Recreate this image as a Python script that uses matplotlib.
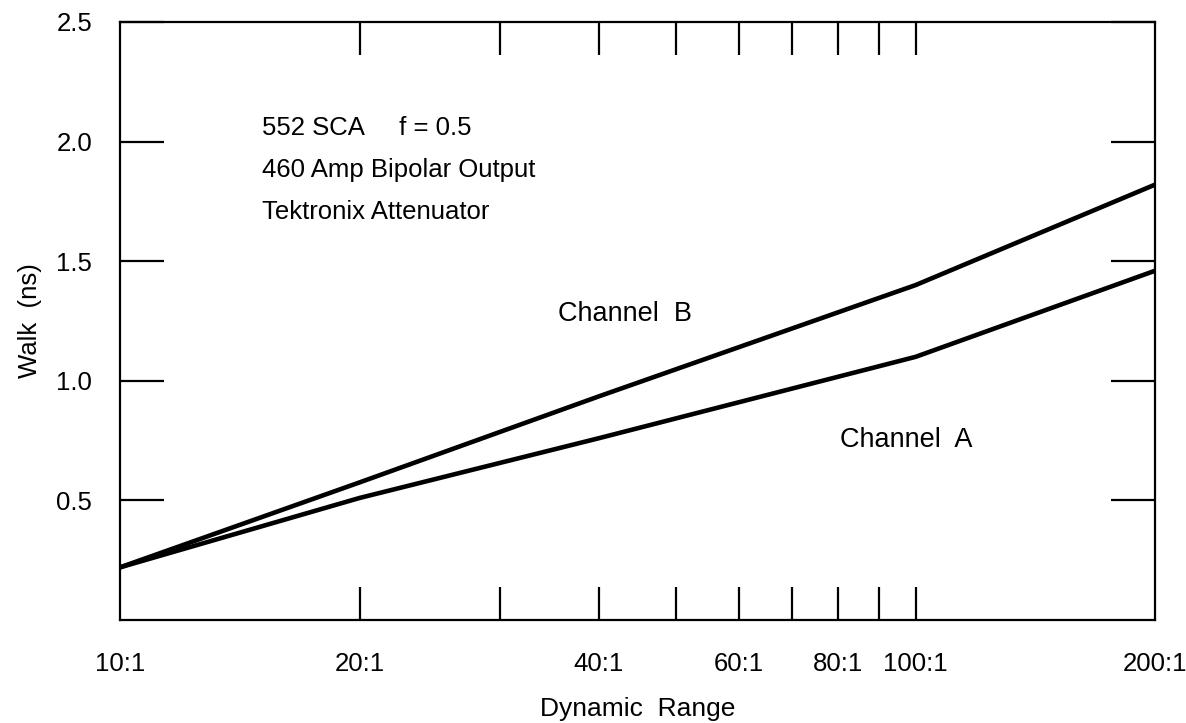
import matplotlib
matplotlib.use("Agg")
import matplotlib.pyplot as plt
from matplotlib.ticker import FixedLocator, FixedFormatter, NullFormatter

plt.rcParams['font.family'] = ['Liberation Sans', 'DejaVu Sans']

ratio = [10, 20, 40, 100, 200]
channel_a = [0.22, 0.51, 0.76, 1.10, 1.46]
channel_b = [0.22, 0.575, 0.935, 1.40, 1.82]

major_ticks = [10, 20, 40, 60, 80, 100, 200]
major_labels = ["10:1", "20:1", "40:1", "60:1", "80:1", "100:1", "200:1"]
inner_ticks = [20, 30, 40, 50, 60, 70, 80, 90, 100]
y_ticks = [0.5, 1.0, 1.5, 2.0, 2.5]
y_labels = ["0.5", "1.0", "1.5", "2.0", "2.5"]

fig = plt.figure(figsize=(11.86, 7.23), dpi=100)
ax = fig.add_axes([0.1012, 0.1425, 0.8727, 0.8271])

ax.plot(ratio, channel_a, color="black", lw=3.3, solid_capstyle="butt")
ax.plot(ratio, channel_b, color="black", lw=3.3, solid_capstyle="butt")

ax.set_xscale("log")
ax.set_xlim(10, 200)
ax.set_ylim(0, 2.5)

for s in ax.spines.values():
    s.set_linewidth(1.6)

ax.xaxis.remove_overlapping_locs = False
ax.xaxis.set_major_locator(FixedLocator(major_ticks))
ax.xaxis.set_major_formatter(FixedFormatter(major_labels))
ax.xaxis.set_minor_locator(FixedLocator(inner_ticks))
ax.xaxis.set_minor_formatter(NullFormatter())
ax.tick_params(axis="x", which="major", length=0, pad=23, labelsize=18.5)
ax.tick_params(axis="x", which="minor", direction="in", length=24, width=1.6,
               top=True, bottom=True)

ax.yaxis.set_major_locator(FixedLocator(y_ticks))
ax.yaxis.set_major_formatter(FixedFormatter(y_labels))
ax.tick_params(axis="y", which="major", direction="in", length=32, width=1.6,
               left=True, right=True, pad=20, labelsize=18.5)

ax.set_xlabel("Dynamic  Range", fontsize=19, labelpad=15)
ax.set_ylabel("Walk  (ns)", fontsize=18.5, labelpad=10)

ax.text(0.137, 0.823, "552 SCA     f = 0.5", transform=ax.transAxes, fontsize=18.5,
        va="center")
ax.text(0.137, 0.753, "460 Amp Bipolar Output", transform=ax.transAxes, fontsize=18.5,
        va="center")
ax.text(0.137, 0.682, "Tektronix Attenuator", transform=ax.transAxes, fontsize=18.5,
        va="center")
ax.text(0.423, 0.512, "Channel  B", transform=ax.transAxes, fontsize=19.5, va="center")
ax.text(0.696, 0.301, "Channel  A", transform=ax.transAxes, fontsize=19.5, va="center")

fig.savefig("out.png", dpi=100)
